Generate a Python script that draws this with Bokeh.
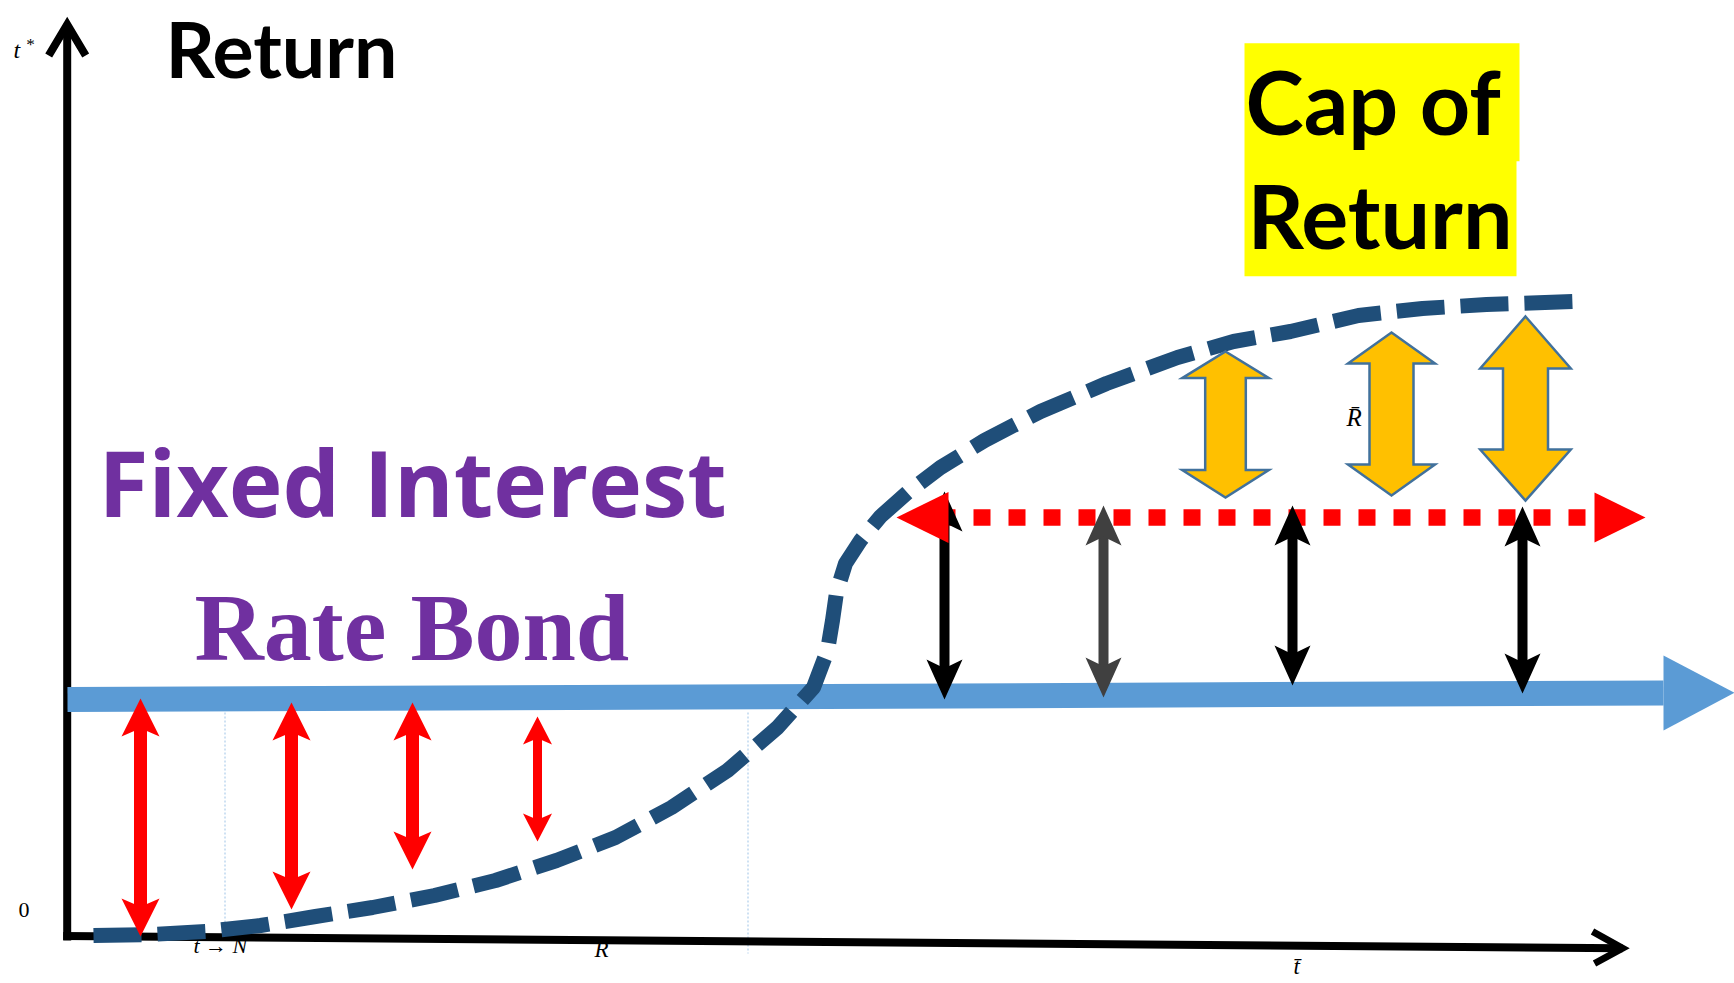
from bokeh.plotting import figure
from bokeh.models import Range1d
from bokeh.embed import file_html
from bokeh.resources import INLINE
from bokeh.core.properties import value

W, H = 1734, 983

# ---------------- data (canvas units, y grows downward) ----------------
# S-shaped return path
curve_x = [93, 150, 205, 260, 315, 372, 434, 495, 556, 615, 671, 727, 777, 813, 827,
           832, 836, 845, 860, 880, 907, 940, 984, 1040, 1106, 1177, 1233, 1290,
           1358, 1422, 1486, 1573]
curve_y = [935, 934, 931, 925, 916, 907, 895, 880, 860, 837, 807, 770, 727, 687, 650,
           620, 592, 563, 540, 516, 492, 467, 440, 411, 383, 357, 341, 331,
           315, 308, 304, 301]

# fixed interest rate bond line
bond_x = [67, 1663]
bond_y = [699, 692.5]
bond_tip_x = 1734

# spreads below the bond line (red)
low_x = [140, 291, 412, 537]
low_top = [698, 702, 702, 716]
low_bottom = [936, 909, 869, 841]

# spreads between cap line and bond line
high_x = [944, 1103, 1292, 1522]
high_top = [491, 505, 505, 506]
high_bottom = [699, 697, 685, 693]

# cap line (red dotted)
cap_y = 517
cap_left_tip, cap_right_tip = 896, 1645

# excess-return arrows (orange)
exc_x = [1225, 1391, 1525]
exc_top = [351, 332, 316]
exc_bottom = [497, 495, 500]

# axes
yaxis_x, yaxis_top, yaxis_bottom = 66.7, 22, 940
xaxis_x = [62.7, 1622]
xaxis_y = [935.5, 947.8]

# guide lines
guide_x = [224.5, 747.5]
guide_bottom = [935, 953]
guide_top = 712

# ---------------- styles ----------------
low_head_len = [38, 38, 38, 28]
low_head_hw = [19, 19, 19, 14.5]
low_shaft = [13, 13, 13, 9]
high_head_len = 40
high_head_hw = 18
high_shaft = 10
high_colors = ["black", "#404040", "black", "black"]
exc_head_top = [26.6, 31, 52]
exc_head_bot = [27.4, 31, 51]
exc_head_hw = [43.3, 43.5, 45.3]
exc_shaft_hw = [20.3, 22, 22.5]

RED = "#FF0000"
PURPLE = "#7030A0"
BOND = "#5B9BD5"
PATH = "#1F4E79"


def vee(x, tip, d, length, hw, notch=0.78):
    """Notched arrow head; d=+1 when the body lies below the tip."""
    xs = [x, x + hw, x, x - hw]
    ys = [tip, tip + d * length, tip + d * notch * length, tip + d * length]
    return xs, ys


p = figure(width=W, height=H, x_range=Range1d(0, W), y_range=Range1d(H, 0),
           x_axis_type=None, y_axis_type=None, toolbar_location=None,
           output_backend="svg", min_border=0)
p.outline_line_color = None
p.background_fill_color = "white"
p.border_fill_color = "white"

# guide lines
p.segment(x0=guide_x, y0=[guide_top] * 2, x1=guide_x, y1=guide_bottom,
          line_color="#9DC3E6", line_width=1, line_dash="2 2")

# axes
p.segment(x0=[yaxis_x], y0=[yaxis_bottom], x1=[yaxis_x], y1=[yaxis_top + 4],
          line_color="black", line_width=8)
p.line([yaxis_x - 18.5, yaxis_x, yaxis_x + 18.5], [55, yaxis_top + 2, 55],
       line_color="black", line_width=8, line_join="miter")
p.line(xaxis_x, xaxis_y, line_color="black", line_width=8)
p.line([xaxis_x[1] - 30, xaxis_x[1], xaxis_x[1] - 28], [931, xaxis_y[1], 963],
       line_color="black", line_width=7, line_join="miter")

# bond line with its arrow head
p.line(bond_x, bond_y, line_color=BOND, line_width=25)
p.patch([bond_x[1], bond_tip_x, bond_x[1]], [655, 692.3, 730], fill_color=BOND,
        line_color=None)

# return path
p.line(curve_x, curve_y, line_color=PATH, line_width=15, line_dash="48 16")

# red spreads below the bond line
hx, hy = [], []
for i, x in enumerate(low_x):
    L, hw = low_head_len[i], low_head_hw[i]
    p.segment(x0=[x], y0=[low_top[i] + 0.7 * L], x1=[x], y1=[low_bottom[i] - 0.7 * L],
              line_color=RED, line_width=low_shaft[i])
    for tip, d in ((low_top[i], 1), (low_bottom[i], -1)):
        xs, ys = vee(x, tip, d, L, hw)
        hx.append(xs)
        hy.append(ys)
p.patches(hx, hy, fill_color=RED, line_color=None)

# cap line dots
p.line([cap_left_tip + 42, cap_right_tip - 51], [cap_y, cap_y], line_color=RED,
       line_width=16.5, line_dash="17 18")

# spreads between cap line and bond line
for i, x in enumerate(high_x):
    c = high_colors[i]
    p.segment(x0=[x], y0=[high_top[i] + 0.7 * high_head_len], x1=[x],
              y1=[high_bottom[i] - 0.7 * high_head_len], line_color=c,
              line_width=high_shaft)
    xs1, ys1 = vee(x, high_top[i], 1, high_head_len, high_head_hw)
    xs2, ys2 = vee(x, high_bottom[i], -1, high_head_len, high_head_hw)
    p.patches([xs1, xs2], [ys1, ys2], fill_color=c, line_color=None)

# cap line end triangles
p.patches([[cap_left_tip, cap_left_tip + 52, cap_left_tip + 52],
           [cap_right_tip, cap_right_tip - 51, cap_right_tip - 51]],
          [[cap_y, cap_y - 25.5, cap_y + 25.5], [cap_y, cap_y - 25, cap_y + 25]],
          fill_color=RED, line_color=None)

# orange double arrows
ox, oy = [], []
for i, cx in enumerate(exc_x):
    t, b = exc_top[i], exc_bottom[i]
    ht, hb = exc_head_top[i], exc_head_bot[i]
    hw, sw = exc_head_hw[i], exc_shaft_hw[i]
    ox.append([cx, cx + hw, cx + sw, cx + sw, cx + hw, cx, cx - hw, cx - sw, cx - sw, cx - hw])
    oy.append([t, t + ht, t + ht, b - hb, b - hb, b, b - hb, b - hb, t + ht, t + ht])
p.patches(ox, oy, fill_color="#FFC000", line_color="#41719C", line_width=2.5,
          line_join="miter")

# yellow label box
p.patch([1244, 1519, 1519, 1516, 1516, 1244], [42.7, 42.7, 160.7, 160.7, 275.7, 275.7],
        fill_color="#FFFF00", line_color=None)


def label(x, y, txt, font, size, lift, color="black", style="normal"):
    """Place text by its baseline; lift compensates the renderer's baseline offset."""
    p.text(x=[x], y=[y - lift * size], text=[txt], text_font=value(font),
           text_font_style=style, text_font_size=value(f"{size}px"),
           text_color=color, text_baseline="alphabetic")


SANS_LIFT, SERIF_LIFT = 0.42, 0.37

# axis title, anchored by the top of its text box so it stays on the canvas
p.text(x=[165], y=[1], text=["Return"], text_font=value("Lato"), text_font_style="bold",
       text_font_size=value("77px"), text_color="black", text_baseline="top")

# headings
label(1245, 137, "Cap of", "Lato", 88, SANS_LIFT, style="bold")
label(1247, 251, "Return", "Lato", 88, SANS_LIFT, style="bold")
label(98, 520, "Fixed Interest", "Open Sans", 91, SANS_LIFT, PURPLE, "bold")
label(194, 663, "Rate Bond", "Liberation Serif", 96, SERIF_LIFT, PURPLE, "bold")

# math labels
label(13, 58, "t", "Liberation Serif", 24, SERIF_LIFT, style="italic")
label(25, 50, "*", "Liberation Serif", 17, SERIF_LIFT, style="italic")
label(193, 953, "t → N", "Liberation Serif", 22, SERIF_LIFT, style="italic")
label(594, 958, "R", "Liberation Serif", 23, SERIF_LIFT, style="italic")
label(1293, 975, "t\u0304", "Liberation Serif", 23, SERIF_LIFT, style="italic")
label(1346, 426, "R\u0304", "Liberation Serif", 25, SERIF_LIFT, style="italic")
label(18, 918, "0", "Liberation Serif", 22, SERIF_LIFT)

open("out.html", "w").write(file_html(p, INLINE))
